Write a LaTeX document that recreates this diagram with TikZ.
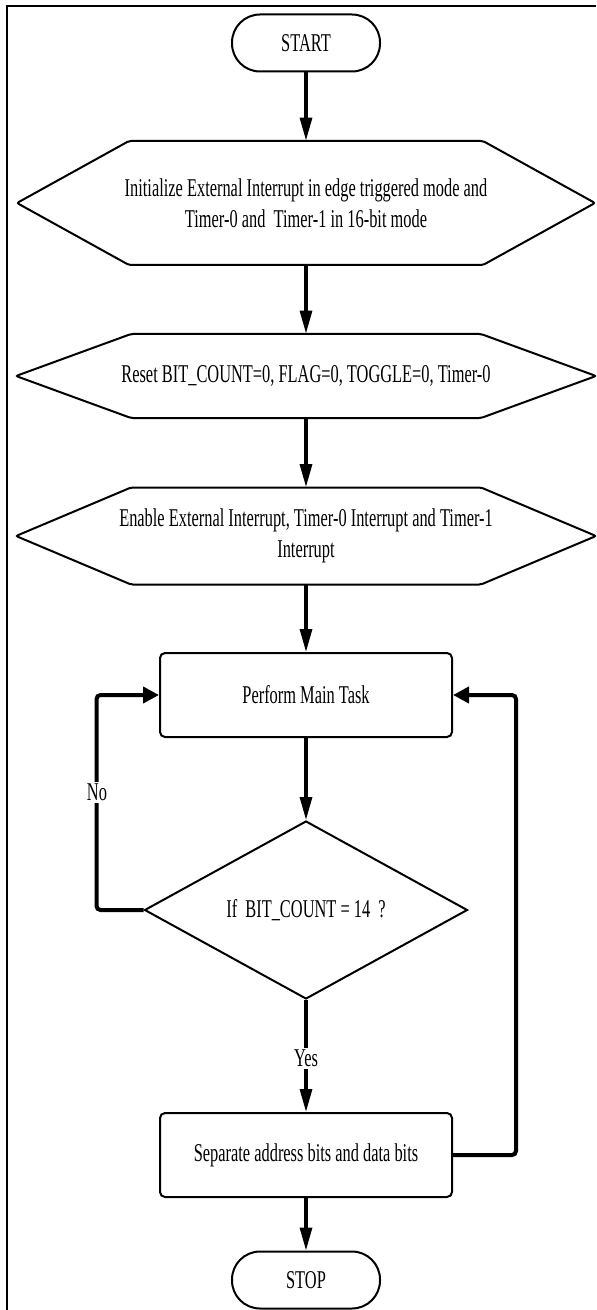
\documentclass[tikz,border=0pt]{standalone}
\usepackage{fontspec}
\setmainfont{Liberation Serif}[FakeStretch=0.64]
\usetikzlibrary{arrows.meta,shapes.geometric}
% #1 node name, #2 half width, #3 half height, #4 tip depth
\newcommand\drawhexshape[4]{%
  \draw[shapeline] ([shift={(-#2,#3)}]#1.center) -- ([shift={(#2,#3)}]#1.center)
    -- ([shift={(#2+#4,0pt)}]#1.center) -- ([shift={(#2,-#3)}]#1.center)
    -- ([shift={(-#2,-#3)}]#1.center) -- ([shift={(-#2-#4,0pt)}]#1.center) -- cycle;}
\begin{document}
\begin{tikzpicture}[x=0.5pt,y=-0.5pt, font=\fontsize{12.8}{15.5}\selectfont,
  shapeline/.style={line width=1pt, rounded corners=1pt},
  term/.style={draw, line width=1pt, rounded corners=14pt, minimum width=74pt, minimum height=28.5pt, inner sep=0pt},
  hexin/.style={inner sep=0pt, align=center},
  proc/.style={draw, line width=1pt, rounded corners=2.5pt, minimum width=146pt, minimum height=42pt, inner sep=0pt},
  decis/.style={draw, diamond, aspect=1.8, line width=1pt, minimum width=161.5pt, minimum height=89pt, inner sep=0pt},
  flow/.style={line width=1.6pt, -{Triangle[length=11.5pt,width=6pt]}},
  loopline/.style={line width=2pt, rounded corners=2pt, -{Triangle[length=8pt,width=8pt]}},
  lbl/.style={fill=white, inner sep=1pt}]

\useasboundingbox (0,0) rectangle (596,1310);
\draw[line width=1.3pt] (596,6) -- (7,6) -- (7,1310);

% terminals
\node[term] (start) at (306,43) {START};
\node[term] (stop) at (306,1280) {STOP};

% hexagon 1
\node[hexin, minimum height=62pt] (h1) at (306,203)
  {Initialize External Interrupt in edge triggered mode and\\Timer-0 and\ \ Timer-1 in 16-bit mode};
\drawhexshape{h1}{88.5pt}{31pt}{56pt}

% hexagon 2
\node[hexin, minimum height=42pt] (h2) at (306,376)
  {Reset BIT\_COUNT=0, FLAG=0, TOGGLE=0, Timer-0};
\drawhexshape{h2}{87.5pt}{21pt}{57.5pt}

% hexagon 3
\node[hexin, minimum height=48.5pt] (h3) at (306,536)
  {Enable External Interrupt, Timer-0 Interrupt and Timer-1\\Interrupt};
\drawhexshape{h3}{87.5pt}{24.25pt}{57.5pt}

% process boxes
\node[proc] (main) at (306,695) {Perform Main Task};
\node[decis] (dec) at (306,910) {If\ \ BIT\_COUNT = 14\ \ ?};
\node[proc] (sep) at (306,1155) {Separate address bits and data bits};

% main flow
\draw[flow] (start.south) -- (h1.north);
\draw[flow] (h1.south) -- (h2.north);
\draw[flow] (h2.south) -- (h3.north);
\draw[flow] (h3.south) -- (main.north);
\draw[flow] (main.south) -- (dec.north);
\draw[flow] (dec.south) -- (sep.north);
\draw[flow] (sep.south) -- (stop.north);

% loops
\draw[loopline] (dec.west) -- ++(-47,0) |- (main.west);
\draw[loopline] (sep.east) -- ++(63,0) |- (main.east);

% labels
\node[lbl] (no) at (97,792) {No};
\node[lbl] (yes) at (306,1058) {Yes};
\end{tikzpicture}
\end{document}
